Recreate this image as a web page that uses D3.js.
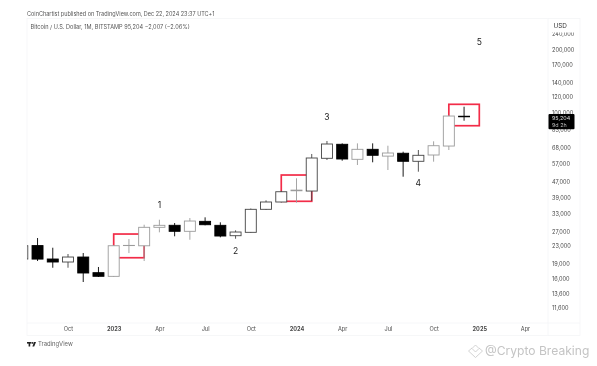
<!DOCTYPE html>
<html>
<head>
<meta charset="utf-8">
<script src="https://cdn.jsdelivr.net/npm/d3@7"></script>
<style>
  html, body { margin: 0; padding: 0; background: #fff; overflow: hidden; }
  svg { display: block; filter: blur(0.45px); font-family: Inter, "Liberation Sans", sans-serif; }
</style>
</head>
<body>
<div id="chart"></div>
<script>
// every month on the time axis, the candles stop at 2024-12
var months = ["2022-07","2022-08","2022-09","2022-10","2022-11","2022-12",
  "2023-01","2023-02","2023-03","2023-04","2023-05","2023-06","2023-07","2023-08","2023-09","2023-10","2023-11","2023-12",
  "2024-01","2024-02","2024-03","2024-04","2024-05","2024-06","2024-07","2024-08","2024-09","2024-10","2024-11","2024-12",
  "2025-01","2025-02","2025-03","2025-04"];

var opens  = [19920,23100,19920,19270,20360,17130, 16450,23100,23050,28260,28900,27040,30190,28890,25760,26740,34470,37370, 42300,42170,60530,70650,59860,66840,62010,64000,58560,62770,69300,96300];
var highs  = [23760,25110,22560,21050,21280,18240, 23230,24830,29080,30730,29630,31310,31550,29860,27335,34780,38070,42310, 48530,63470,73260,71380,71380,71380,69540,65110,66330,73010,97500,106960];
var lows   = [19480,19480,18090,18090,15455,16330, 16330,21270,19480,26740,25590,24640,28890,25300,24910,26590,34210,37160, 37080,37780,59400,58950,56210,57910,53190,49400,52210,58300,66330,91650];
var closes = [23060,19900,19270,20360,17070,16460, 23060,23150,28260,28890,27040,30290,29080,25670,26830,34470,37370,41850, 42600,60730,70870,60060,66840,62570,64170,58560,62570,69540,96500,95700];

// light outlined candles
var greyMonths = ["2023-01","2023-02","2023-03","2023-04","2023-06","2024-01","2024-05","2024-07","2024-10","2024-11"];

var boxStart = ["2023-01","2023-12","2024-11"];
var boxEnd   = ["2023-03","2024-02","2025-01"];
var boxHigh  = [26240,50330,109830];
var boxLow   = [20200,37660,86720];

var waveLabels = ["1","2","3","4","5"];
var waveMonths = ["2023-04","2023-09","2024-03","2024-09","2025-01"];
var wavePrices = [35750,21550,95000,45570,216000];

var priceTicks = [240000,200000,170000,140000,120000,100000,83000,68000,57000,47000,39000,33000,27000,23000,19000,16000,13600,11600];
var timeTicks  = ["2022-10","2023-01","2023-04","2023-07","2023-10","2024-01","2024-04","2024-07","2024-10","2025-01","2025-04"];
var timeLabels = ["Oct","2023","Apr","Jul","Oct","2024","Apr","Jul","Oct","2025","Apr"];

var width = 597, height = 366;
var plotLeft = 27, plotRight = 548, frameRight = 580, plotTop = 18.5, axisY = 323, frameBottom = 335.5;

var svg = d3.select("#chart").append("svg")
    .attr("width", width)
    .attr("height", height);

var x = d3.scalePoint().domain(months).range([22.3, 525]);
var y = d3.scaleLog().domain([11600, 200000]).range([308, 50]);

var clip = svg.append("defs").append("clipPath").attr("id", "plot");
clip.append("rect").attr("x", plotLeft).attr("y", plotTop).attr("width", plotRight - plotLeft).attr("height", axisY - plotTop);

// frame
var frame = "#f4f5f7";
svg.append("rect").attr("x", plotLeft).attr("y", plotTop).attr("width", frameRight - plotLeft).attr("height", frameBottom - plotTop)
    .attr("fill", "none").attr("stroke", frame).attr("stroke-width", 0.8);
svg.append("line").attr("x1", plotLeft).attr("x2", frameRight).attr("y1", axisY).attr("y2", axisY)
    .attr("stroke", frame).attr("stroke-width", 0.8);
svg.append("line").attr("x1", plotRight).attr("x2", plotRight).attr("y1", plotTop).attr("y2", frameBottom)
    .attr("stroke", frame).attr("stroke-width", 0.8);

var plot = svg.append("g").attr("clip-path", "url(#plot)");

// red boxes go under the candles
plot.selectAll(".box")
    .data(boxStart)
    .enter().append("rect")
    .attr("class", "box")
    .attr("x", function(d) { return x(d); })
    .attr("width", function(d, i) { return x(boxEnd[i]) - x(d); })
    .attr("y", function(d, i) { return y(boxHigh[i]); })
    .attr("height", function(d, i) { return y(boxLow[i]) - y(boxHigh[i]); })
    .attr("fill", "none")
    .attr("stroke", "#f22c48")
    .attr("stroke-width", 1.7);

var candles = plot.selectAll(".candle")
    .data(opens)
    .enter().append("g")
    .attr("class", "candle");

function candleColor(i) {
    if (closes[i] < opens[i]) return "#000";
    return greyMonths.indexOf(months[i]) >= 0 ? "#9b9b9b" : "#444";
}

candles.append("line")
    .attr("x1", function(d, i) { return x(months[i]); })
    .attr("x2", function(d, i) { return x(months[i]); })
    .attr("y1", function(d, i) { return y(highs[i]); })
    .attr("y2", function(d, i) { return y(lows[i]); })
    .attr("stroke", function(d, i) { return candleColor(i); })
    .attr("stroke-width", 0.9);

candles.append("rect")
    .attr("x", function(d, i) { return x(months[i]) - 5.5; })
    .attr("width", 11)
    .attr("y", function(d, i) { return Math.min(y(opens[i]), y(closes[i])); })
    .attr("height", function(d, i) { return Math.abs(y(opens[i]) - y(closes[i])); })
    .attr("fill", function(d, i) { return closes[i] < opens[i] ? "#000" : "#fff"; })
    .attr("stroke", function(d, i) { return candleColor(i); })
    .attr("stroke-width", 0.9);

// wave counts
svg.selectAll(".wave")
    .data(waveLabels)
    .enter().append("text")
    .attr("class", "wave")
    .attr("x", function(d, i) { return x(waveMonths[i]); })
    .attr("y", function(d, i) { return y(wavePrices[i]); })
    .attr("text-anchor", "middle")
    .attr("dominant-baseline", "middle")
    .style("font-size", "8.5px")
    .style("fill", "#222")
    .text(function(d) { return d; });

// y axis
var yAxis = svg.append("g")
    .attr("transform", "translate(" + plotRight + ",0)")
    .call(d3.axisRight(y).tickValues(priceTicks).tickSize(0).tickPadding(4).tickFormat(d3.format(",")));
yAxis.select(".domain").remove();
yAxis.selectAll("text").style("font-size", "5.6px").style("fill", "#4a4a4a").style("font-family", "Inter, sans-serif");

// x axis
var xAxis = svg.append("g")
    .attr("transform", "translate(0," + axisY + ")")
    .call(d3.axisBottom(x).tickValues(timeTicks).tickSize(0).tickPadding(4.5)
        .tickFormat(function(d) { return timeLabels[timeTicks.indexOf(d)]; }));
xAxis.select(".domain").remove();
xAxis.selectAll("text")
    .style("font-size", "5.6px").style("fill", "#4a4a4a").style("font-family", "Inter, sans-serif")
    .style("font-weight", function() { return this.textContent.length == 4 ? 700 : 400; });

// USD tag covers the top tick
svg.append("rect").attr("x", 551).attr("y", 19.5).attr("width", 27).attr("height", 13).attr("rx", 2).attr("fill", "#fff");
svg.append("text").attr("x", 553.5).attr("y", 28).style("font-size", "6.4px").style("fill", "#333").text("USD");

// last price tag
svg.append("rect").attr("x", 548.5).attr("y", 114).attr("width", 26).attr("height", 15.2).attr("rx", 1).attr("fill", "#000");
svg.append("text").attr("x", 552).attr("y", 120).style("font-size", "5.4px").style("fill", "#ddd").text("95,204");
svg.append("text").attr("x", 552).attr("y", 126.5).style("font-size", "5.4px").style("fill", "#bbb").text("9d 2h");

// header
svg.append("text").attr("x", 27).attr("y", 16)
    .style("font-size", "5.5px").style("fill", "#555")
    .text("CoinChartist published on TradingView.com, Dec 22, 2024 23:37 UTC+1");
svg.append("text").attr("x", 30.5).attr("y", 28.5)
    .style("font-size", "5.6px").style("fill", "#555")
    .text("Bitcoin / U.S. Dollar, 1M, BITSTAMP  95,204  \u22122,007 (\u22122.06%)");

// footer logo and name
var logo = svg.append("g").attr("fill", "#222");
logo.append("rect").attr("x", 27).attr("y", 342).attr("width", 4.5).attr("height", 1.6);
logo.append("rect").attr("x", 28.6).attr("y", 342).attr("width", 1.6).attr("height", 4.5);
logo.append("circle").attr("cx", 32.6).attr("cy", 342.9).attr("r", 0.9);
logo.append("path").attr("d", "M34 342H36L34.2 346.5H32.4Z");
svg.append("text").attr("x", 38).attr("y", 345.6)
    .style("font-size", "5.9px").style("fill", "#666")
    .text("TradingView");

// watermark
var mark = svg.append("g").attr("fill", "none").attr("stroke", "#c8c8c8").attr("stroke-width", 0.8);
mark.append("path").attr("d", "M472 348.5L475.5 345L479 348.5L475.5 352Z");
mark.append("path").attr("d", "M468.5 351L475.5 357.5L482.5 351");
mark.append("path").attr("d", "M468.5 351L472 348M482.5 351L479 348");
svg.append("text").attr("x", 485).attr("y", 355)
    .style("font-size", "12.1px").style("fill", "#c4c4c4")
    .text("@Crypto Breaking");
</script>
</body>
</html>
